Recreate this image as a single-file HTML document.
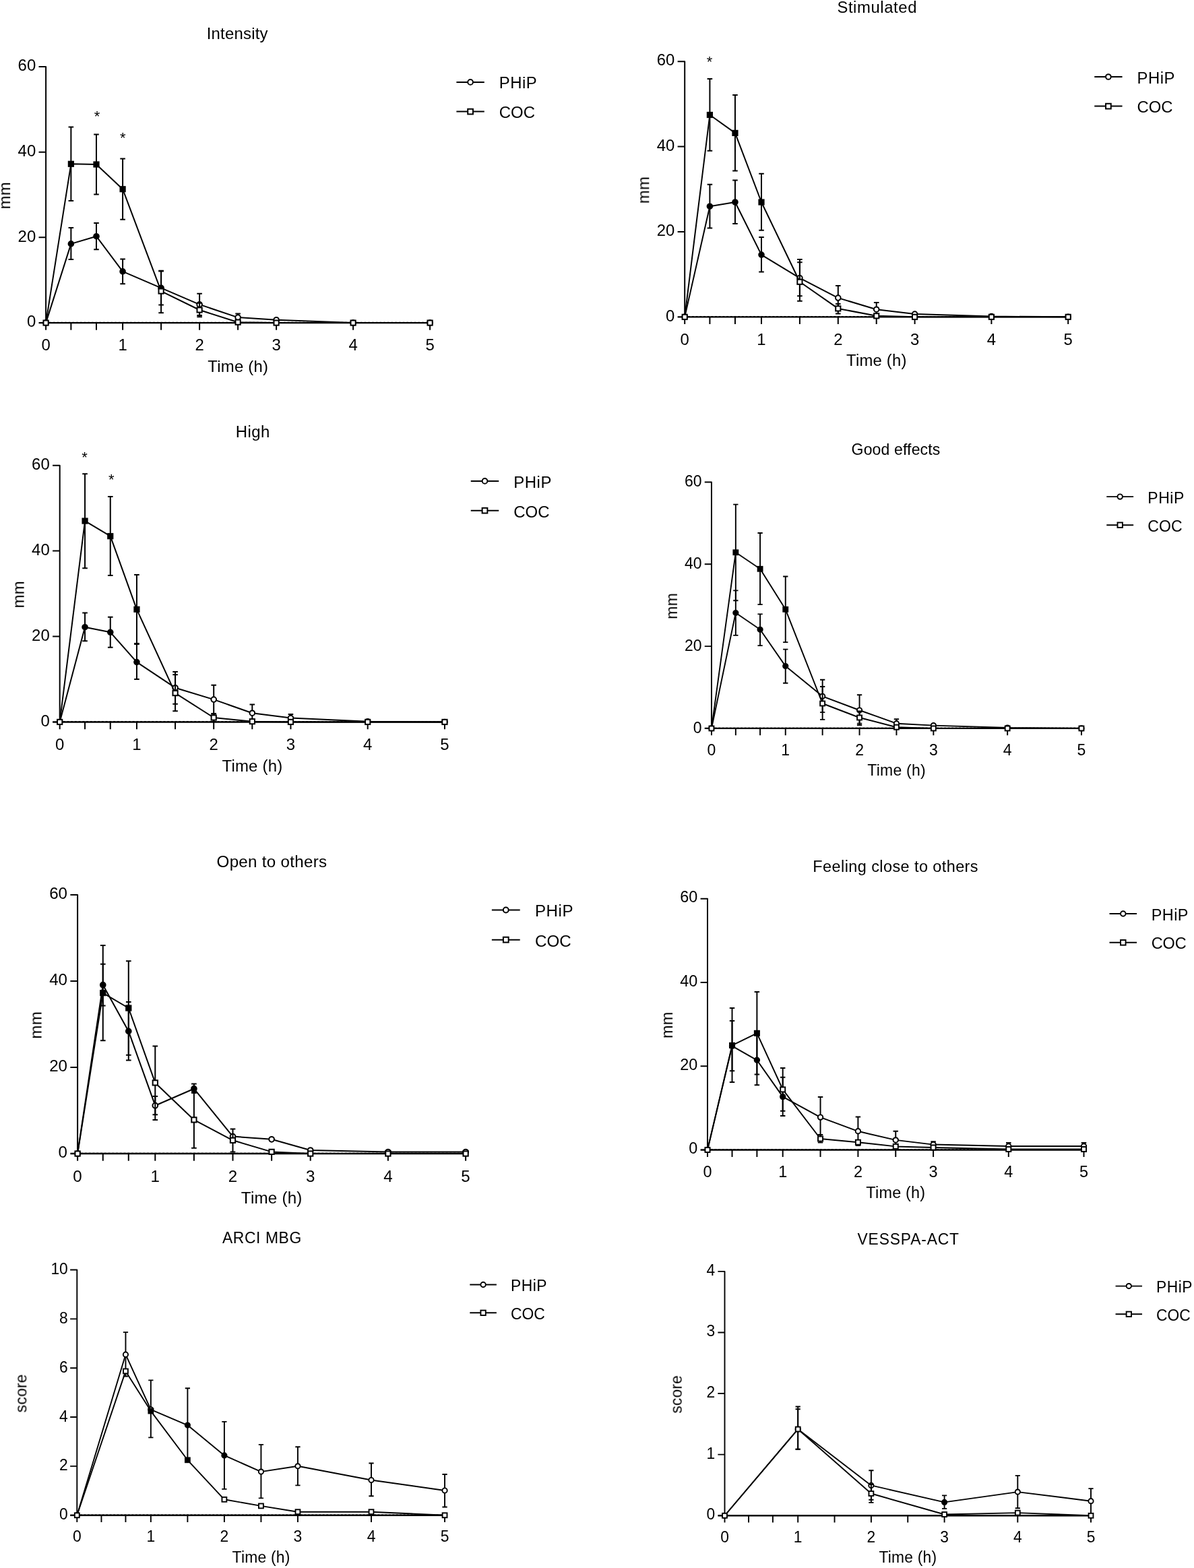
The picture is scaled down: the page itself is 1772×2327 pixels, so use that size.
<!DOCTYPE html>
<html lang="en">
<head>
<meta charset="utf-8">
<title>Subjective effects over time: PHiP vs COC</title>
<style>
html,body{margin:0;padding:0;background:#fff}
body{width:1772px;height:2327px;overflow:hidden}
svg{display:block;font-family:"Liberation Sans", sans-serif;fill:#000}
.chart{filter:blur(0.4px)}
.l{fill:none;stroke:#000}
</style>
</head>
<body>
<svg width="1772" height="2327" viewBox="0 0 1772 2327">
<rect width="1772" height="2327" fill="#fff"/>
<g class="chart">
<text transform="translate(352.21 57.75) scale(0.985 1)" font-size="24.3" text-anchor="middle" letter-spacing="0.22">Intensity</text>
<path class="l" stroke-width="2.4" d="M57.5 479.1H639.1"/>
<path class="l" stroke-width="1" stroke-dasharray="3 2.7" d="M73.1 478.3H638.1"/>
<text transform="translate(53.2 485.3) scale(0.985 1)" font-size="24.3" text-anchor="end">0</text>
<text transform="translate(53.2 358.57) scale(0.985 1)" font-size="24.3" text-anchor="end">20</text>
<text transform="translate(53.2 231.83) scale(0.985 1)" font-size="24.3" text-anchor="end">40</text>
<text transform="translate(53.2 105.1) scale(0.985 1)" font-size="24.3" text-anchor="end">60</text>
<text transform="translate(68.1 520.4) scale(0.985 1)" font-size="24.3" text-anchor="middle">0</text>
<text transform="translate(182.1 520.4) scale(0.985 1)" font-size="24.3" text-anchor="middle">1</text>
<text transform="translate(296.1 520.4) scale(0.985 1)" font-size="24.3" text-anchor="middle">2</text>
<text transform="translate(410.1 520.4) scale(0.985 1)" font-size="24.3" text-anchor="middle">3</text>
<text transform="translate(524.1 520.4) scale(0.985 1)" font-size="24.3" text-anchor="middle">4</text>
<text transform="translate(638.1 520.4) scale(0.985 1)" font-size="24.3" text-anchor="middle">5</text>
<path class="l" stroke-linejoin="round" stroke-width="2" d="M57.5 98.9H68.1V479.1M57.5 352.37H68.1M57.5 225.63H68.1M68.1 479.1V489.8M105.38 479.1V489.8M143 479.1V489.8M182.1 479.1V489.8M239.1 479.1V489.8M296.1 479.1V489.8M353.1 479.1V489.8M410.1 479.1V489.8M524.1 479.1V489.8M638.1 479.1V489.8"/>
<text transform="translate(353.21 552.2) scale(0.985 1)" font-size="24.3" text-anchor="middle" letter-spacing="0.21">Time (h)</text>
<text transform="translate(15.1 290.2) rotate(-90) scale(0.985 1)" font-size="24.3" text-anchor="middle" letter-spacing="0.21">mm</text>
<path class="l" stroke-width="2" d="M677.4 121.9H718.8"/>
<circle cx="698.1" cy="121.9" r="3.85" fill="#fff" stroke="#000" stroke-width="2"/>
<text transform="translate(740.8 131.3) scale(0.985 1)" font-size="24.3" letter-spacing="0.5">PHiP</text>
<path class="l" stroke-width="2" d="M677.4 165.6H718.8"/>
<rect x="694.25" y="161.75" width="7.7" height="7.7" fill="#fff" stroke="#000" stroke-width="2"/>
<text transform="translate(740.8 175) scale(0.985 1)" font-size="24.3">COC</text>
<text transform="translate(144 180.1)" font-size="22" text-anchor="middle">*</text>
<text transform="translate(182.4 212.2)" font-size="22" text-anchor="middle">*</text>
<path class="l" stroke-width="2" d="M105.38 361.9V338.1M101.58 338.1H109.18M105.38 361.9V385M101.58 385H109.18M143 350.7V331M139.2 331H146.8M143 350.7V370.2M139.2 370.2H146.8M182.1 402.9V384.5M178.3 384.5H185.9M182.1 402.9V421.2M178.3 421.2H185.9M239.1 427.4V401.7M235.3 401.7H242.9M239.1 427.4V452.4M235.3 452.4H242.9M296.1 451.9V435.7M292.3 435.7H299.9M296.1 451.9V468.1M292.3 468.1H299.9M353.1 471.1V465.4M349.3 465.4H356.9M353.1 471.1V477M349.3 477H356.9"/>
<path class="l" stroke-width="2" stroke-linejoin="round" d="M68.1 479.1L105.38 361.9L143 350.7L182.1 402.9L239.1 427.4L296.1 451.9L353.1 471.1L410.1 474.7L524.1 479.1L638.1 479.1"/>
<circle cx="68.1" cy="479.1" r="3.8" fill="#fff" stroke="#000" stroke-width="2"/>
<circle cx="105.38" cy="361.9" r="3.8" fill="#000" stroke="#000" stroke-width="2"/>
<circle cx="143" cy="350.7" r="3.8" fill="#000" stroke="#000" stroke-width="2"/>
<circle cx="182.1" cy="402.9" r="3.8" fill="#000" stroke="#000" stroke-width="2"/>
<circle cx="239.1" cy="427.4" r="3.8" fill="#000" stroke="#000" stroke-width="2"/>
<circle cx="296.1" cy="451.9" r="3.8" fill="#fff" stroke="#000" stroke-width="2"/>
<circle cx="353.1" cy="471.1" r="3.8" fill="#fff" stroke="#000" stroke-width="2"/>
<circle cx="410.1" cy="474.7" r="3.8" fill="#fff" stroke="#000" stroke-width="2"/>
<circle cx="524.1" cy="479.1" r="3.8" fill="#fff" stroke="#000" stroke-width="2"/>
<circle cx="638.1" cy="479.1" r="3.8" fill="#fff" stroke="#000" stroke-width="2"/>
<path class="l" stroke-width="2" d="M105.38 243.3V188.6M101.58 188.6H109.18M105.38 243.3V298.1M101.58 298.1H109.18M143 244V199.5M139.2 199.5H146.8M143 244V288.6M139.2 288.6H146.8M182.1 280.7V235.5M178.3 235.5H185.9M182.1 280.7V325.7M178.3 325.7H185.9M239.1 432.1V402.4M235.3 402.4H242.9M239.1 432.1V464.3M235.3 464.3H242.9M296.1 460V449.7M292.3 449.7H299.9M296.1 460V470.3M292.3 470.3H299.9"/>
<path class="l" stroke-width="2" stroke-linejoin="round" d="M68.1 479.1L105.38 243.3L143 244L182.1 280.7L239.1 432.1L296.1 460L353.1 478.2L410.1 479.1L524.1 479.1L638.1 479.1"/>
<rect x="64.5" y="475.5" width="7.2" height="7.2" fill="#fff" stroke="#000" stroke-width="2"/>
<rect x="101.78" y="239.7" width="7.2" height="7.2" fill="#000" stroke="#000" stroke-width="2"/>
<rect x="139.4" y="240.4" width="7.2" height="7.2" fill="#000" stroke="#000" stroke-width="2"/>
<rect x="178.5" y="277.1" width="7.2" height="7.2" fill="#000" stroke="#000" stroke-width="2"/>
<rect x="235.5" y="428.5" width="7.2" height="7.2" fill="#fff" stroke="#000" stroke-width="2"/>
<rect x="292.5" y="456.4" width="7.2" height="7.2" fill="#fff" stroke="#000" stroke-width="2"/>
<rect x="349.5" y="474.6" width="7.2" height="7.2" fill="#fff" stroke="#000" stroke-width="2"/>
<rect x="406.5" y="475.5" width="7.2" height="7.2" fill="#fff" stroke="#000" stroke-width="2"/>
<rect x="520.5" y="475.5" width="7.2" height="7.2" fill="#fff" stroke="#000" stroke-width="2"/>
<rect x="634.5" y="475.5" width="7.2" height="7.2" fill="#fff" stroke="#000" stroke-width="2"/>
</g>
<g class="chart">
<text transform="translate(1301.69 19.45) scale(0.985 1)" font-size="24.26" text-anchor="middle" letter-spacing="0.59">Stimulated</text>
<path class="l" stroke-width="2.4" d="M1005.62 470.35H1586.2"/>
<path class="l" stroke-width="1" stroke-dasharray="2.99 2.7" d="M1021.19 469.55H1585.2"/>
<text transform="translate(1001.33 476.54) scale(0.985 1)" font-size="24.26" text-anchor="end">0</text>
<text transform="translate(1001.33 350.16) scale(0.985 1)" font-size="24.26" text-anchor="end">20</text>
<text transform="translate(1001.33 223.77) scale(0.985 1)" font-size="24.26" text-anchor="end">40</text>
<text transform="translate(1001.33 97.39) scale(0.985 1)" font-size="24.26" text-anchor="end">60</text>
<text transform="translate(1016.2 511.58) scale(0.985 1)" font-size="24.26" text-anchor="middle">0</text>
<text transform="translate(1130 511.58) scale(0.985 1)" font-size="24.26" text-anchor="middle">1</text>
<text transform="translate(1243.8 511.58) scale(0.985 1)" font-size="24.26" text-anchor="middle">2</text>
<text transform="translate(1357.6 511.58) scale(0.985 1)" font-size="24.26" text-anchor="middle">3</text>
<text transform="translate(1471.4 511.58) scale(0.985 1)" font-size="24.26" text-anchor="middle">4</text>
<text transform="translate(1585.2 511.58) scale(0.985 1)" font-size="24.26" text-anchor="middle">5</text>
<path class="l" stroke-linejoin="round" stroke-width="2" d="M1005.62 91.2H1016.2V470.35M1005.62 343.97H1016.2M1005.62 217.58H1016.2M1016.2 470.35V481.03M1053.41 470.35V481.03M1090.97 470.35V481.03M1130 470.35V481.03M1186.9 470.35V481.03M1243.8 470.35V481.03M1300.7 470.35V481.03M1357.6 470.35V481.03M1471.4 470.35V481.03M1585.2 470.35V481.03"/>
<text transform="translate(1300.8 543.32) scale(0.985 1)" font-size="24.26" text-anchor="middle" letter-spacing="0.21">Time (h)</text>
<text transform="translate(963.29 281.98) rotate(-90) scale(0.985 1)" font-size="24.26" text-anchor="middle" letter-spacing="0.21">mm</text>
<path class="l" stroke-width="2" d="M1624.24 114H1665.56"/>
<circle cx="1644.9" cy="114" r="3.84" fill="#fff" stroke="#000" stroke-width="2"/>
<text transform="translate(1687.53 123.78) scale(0.985 1)" font-size="24.26" letter-spacing="0.5">PHiP</text>
<path class="l" stroke-width="2" d="M1624.24 157.62H1665.56"/>
<rect x="1641.06" y="153.78" width="7.69" height="7.69" fill="#fff" stroke="#000" stroke-width="2"/>
<text transform="translate(1687.53 167.41) scale(0.985 1)" font-size="24.26">COC</text>
<text transform="translate(1053.1 98.68)" font-size="21.96" text-anchor="middle">*</text>
<path class="l" stroke-width="2" d="M1053.41 306.2V273.8M1049.62 273.8H1057.21M1053.41 306.2V338.6M1049.62 338.6H1057.21M1090.97 300V267.6M1087.17 267.6H1094.76M1090.97 300V332.1M1087.17 332.1H1094.76M1130 378.1V351.9M1126.21 351.9H1133.79M1130 378.1V403.6M1126.21 403.6H1133.79M1186.9 412.6V385M1183.11 385H1190.69M1186.9 412.6V439.3M1183.11 439.3H1190.69M1243.8 442.1V424M1240.01 424H1247.59M1243.8 442.1V460M1240.01 460H1247.59M1300.7 459.2V449M1296.91 449H1304.49M1300.7 459.2V469M1296.91 469H1304.49"/>
<path class="l" stroke-width="2" stroke-linejoin="round" d="M1016.2 470.35L1053.41 306.2L1090.97 300L1130 378.1L1186.9 412.6L1243.8 442.1L1300.7 459.2L1357.6 466.1L1471.4 469.6L1585.2 470.35"/>
<circle cx="1016.2" cy="470.35" r="3.79" fill="#fff" stroke="#000" stroke-width="2"/>
<circle cx="1053.41" cy="306.2" r="3.79" fill="#000" stroke="#000" stroke-width="2"/>
<circle cx="1090.97" cy="300" r="3.79" fill="#000" stroke="#000" stroke-width="2"/>
<circle cx="1130" cy="378.1" r="3.79" fill="#000" stroke="#000" stroke-width="2"/>
<circle cx="1186.9" cy="412.6" r="3.79" fill="#fff" stroke="#000" stroke-width="2"/>
<circle cx="1243.8" cy="442.1" r="3.79" fill="#fff" stroke="#000" stroke-width="2"/>
<circle cx="1300.7" cy="459.2" r="3.79" fill="#fff" stroke="#000" stroke-width="2"/>
<circle cx="1357.6" cy="466.1" r="3.79" fill="#fff" stroke="#000" stroke-width="2"/>
<circle cx="1471.4" cy="469.6" r="3.79" fill="#fff" stroke="#000" stroke-width="2"/>
<circle cx="1585.2" cy="470.35" r="3.79" fill="#fff" stroke="#000" stroke-width="2"/>
<path class="l" stroke-width="2" d="M1053.41 170.5V116.9M1049.62 116.9H1057.21M1053.41 170.5V223.8M1049.62 223.8H1057.21M1090.97 197.4V141M1087.17 141H1094.76M1090.97 197.4V253.6M1087.17 253.6H1094.76M1130 300V257.7M1126.21 257.7H1133.79M1130 300V341.7M1126.21 341.7H1133.79M1186.9 418.3V389.3M1183.11 389.3H1190.69M1186.9 418.3V446.7M1183.11 446.7H1190.69M1243.8 457.9V451M1240.01 451H1247.59M1243.8 457.9V465.5M1240.01 465.5H1247.59"/>
<path class="l" stroke-width="2" stroke-linejoin="round" d="M1016.2 470.35L1053.41 170.5L1090.97 197.4L1130 300L1186.9 418.3L1243.8 457.9L1300.7 468.8L1357.6 470.35L1471.4 470.35L1585.2 470.35"/>
<rect x="1012.61" y="466.76" width="7.19" height="7.19" fill="#fff" stroke="#000" stroke-width="2"/>
<rect x="1049.82" y="166.91" width="7.19" height="7.19" fill="#000" stroke="#000" stroke-width="2"/>
<rect x="1087.37" y="193.81" width="7.19" height="7.19" fill="#000" stroke="#000" stroke-width="2"/>
<rect x="1126.41" y="296.41" width="7.19" height="7.19" fill="#000" stroke="#000" stroke-width="2"/>
<rect x="1183.31" y="414.71" width="7.19" height="7.19" fill="#fff" stroke="#000" stroke-width="2"/>
<rect x="1240.21" y="454.31" width="7.19" height="7.19" fill="#fff" stroke="#000" stroke-width="2"/>
<rect x="1297.11" y="465.21" width="7.19" height="7.19" fill="#fff" stroke="#000" stroke-width="2"/>
<rect x="1354.01" y="466.76" width="7.19" height="7.19" fill="#fff" stroke="#000" stroke-width="2"/>
<rect x="1467.81" y="466.76" width="7.19" height="7.19" fill="#fff" stroke="#000" stroke-width="2"/>
<rect x="1581.61" y="466.76" width="7.19" height="7.19" fill="#fff" stroke="#000" stroke-width="2"/>
</g>
<g class="chart">
<text transform="translate(375.22 649.15) scale(0.985 1)" font-size="24.35" text-anchor="middle" letter-spacing="0.39">High</text>
<path class="l" stroke-width="2.41" d="M78.08 1071.45H660.95"/>
<path class="l" stroke-width="1" stroke-dasharray="3.01 2.71" d="M93.71 1070.65H659.95"/>
<text transform="translate(73.77 1077.96) scale(0.985 1)" font-size="24.35" text-anchor="end">0</text>
<text transform="translate(73.77 951.05) scale(0.985 1)" font-size="24.35" text-anchor="end">20</text>
<text transform="translate(73.77 824.13) scale(0.985 1)" font-size="24.35" text-anchor="end">40</text>
<text transform="translate(73.77 697.21) scale(0.985 1)" font-size="24.35" text-anchor="end">60</text>
<text transform="translate(88.7 1112.84) scale(0.985 1)" font-size="24.35" text-anchor="middle">0</text>
<text transform="translate(202.95 1112.84) scale(0.985 1)" font-size="24.35" text-anchor="middle">1</text>
<text transform="translate(317.2 1112.84) scale(0.985 1)" font-size="24.35" text-anchor="middle">2</text>
<text transform="translate(431.45 1112.84) scale(0.985 1)" font-size="24.35" text-anchor="middle">3</text>
<text transform="translate(545.7 1112.84) scale(0.985 1)" font-size="24.35" text-anchor="middle">4</text>
<text transform="translate(659.95 1112.84) scale(0.985 1)" font-size="24.35" text-anchor="middle">5</text>
<path class="l" stroke-linejoin="round" stroke-width="2" d="M78.08 690.7H88.7V1071.45M78.08 944.53H88.7M78.08 817.62H88.7M88.7 1071.45V1082.17M126.06 1071.45V1082.17M163.76 1071.45V1082.17M202.95 1071.45V1082.17M260.07 1071.45V1082.17M317.2 1071.45V1082.17M374.32 1071.45V1082.17M431.45 1071.45V1082.17M545.7 1071.45V1082.17M659.95 1071.45V1082.17"/>
<text transform="translate(374.43 1144.71) scale(0.985 1)" font-size="24.35" text-anchor="middle" letter-spacing="0.21">Time (h)</text>
<text transform="translate(35.58 882.28) rotate(-90) scale(0.985 1)" font-size="24.35" text-anchor="middle" letter-spacing="0.21">mm</text>
<path class="l" stroke-width="2" d="M698.75 713.9H740.25"/>
<circle cx="719.5" cy="713.9" r="3.86" fill="#fff" stroke="#000" stroke-width="2"/>
<text transform="translate(762.29 723.72) scale(0.985 1)" font-size="24.35" letter-spacing="0.5">PHiP</text>
<path class="l" stroke-width="2" d="M698.75 757.7H740.25"/>
<rect x="715.64" y="753.84" width="7.72" height="7.72" fill="#fff" stroke="#000" stroke-width="2"/>
<text transform="translate(762.29 767.52) scale(0.985 1)" font-size="24.35">COC</text>
<text transform="translate(125.5 685.82)" font-size="22.05" text-anchor="middle">*</text>
<text transform="translate(165.2 719.12)" font-size="22.05" text-anchor="middle">*</text>
<path class="l" stroke-width="2" d="M126.06 930.7V909.5M122.25 909.5H129.87M126.06 930.7V951.2M122.25 951.2H129.87M163.76 938.3V915.7M159.95 915.7H167.57M163.76 938.3V960.7M159.95 960.7H167.57M202.95 982.6V955M199.14 955H206.76M202.95 982.6V1008.1M199.14 1008.1H206.76M260.07 1020.7V997.1M256.27 997.1H263.88M260.07 1020.7V1044.8M256.27 1044.8H263.88M317.2 1038.1V1016.7M313.39 1016.7H321.01M317.2 1038.1V1059.5M313.39 1059.5H321.01M374.32 1058.2V1045.6M370.52 1045.6H378.13M374.32 1058.2V1070M370.52 1070H378.13M431.45 1065.6V1060M427.64 1060H435.26"/>
<path class="l" stroke-width="2" stroke-linejoin="round" d="M88.7 1071.45L126.06 930.7L163.76 938.3L202.95 982.6L260.07 1020.7L317.2 1038.1L374.32 1058.2L431.45 1065.6L545.7 1070.7L659.95 1071.45"/>
<circle cx="88.7" cy="1071.45" r="3.81" fill="#fff" stroke="#000" stroke-width="2"/>
<circle cx="126.06" cy="930.7" r="3.81" fill="#000" stroke="#000" stroke-width="2"/>
<circle cx="163.76" cy="938.3" r="3.81" fill="#000" stroke="#000" stroke-width="2"/>
<circle cx="202.95" cy="982.6" r="3.81" fill="#000" stroke="#000" stroke-width="2"/>
<circle cx="260.07" cy="1020.7" r="3.81" fill="#fff" stroke="#000" stroke-width="2"/>
<circle cx="317.2" cy="1038.1" r="3.81" fill="#fff" stroke="#000" stroke-width="2"/>
<circle cx="374.32" cy="1058.2" r="3.81" fill="#fff" stroke="#000" stroke-width="2"/>
<circle cx="431.45" cy="1065.6" r="3.81" fill="#fff" stroke="#000" stroke-width="2"/>
<circle cx="545.7" cy="1070.7" r="3.81" fill="#fff" stroke="#000" stroke-width="2"/>
<circle cx="659.95" cy="1071.45" r="3.81" fill="#fff" stroke="#000" stroke-width="2"/>
<path class="l" stroke-width="2" d="M126.06 773.1V703.3M122.25 703.3H129.87M126.06 773.1V843.3M122.25 843.3H129.87M163.76 795.7V737.1M159.95 737.1H167.57M163.76 795.7V854M159.95 854H167.57M202.95 904.3V852.9M199.14 852.9H206.76M202.95 904.3V956M199.14 956H206.76M260.07 1028.6V1001.2M256.27 1001.2H263.88M260.07 1028.6V1055.2M256.27 1055.2H263.88M317.2 1065V1059M313.39 1059H321.01M317.2 1065V1071M313.39 1071H321.01"/>
<path class="l" stroke-width="2" stroke-linejoin="round" d="M88.7 1071.45L126.06 773.1L163.76 795.7L202.95 904.3L260.07 1028.6L317.2 1065L374.32 1070.7L431.45 1071.45L545.7 1071.45L659.95 1071.45"/>
<rect x="85.09" y="1067.84" width="7.22" height="7.22" fill="#fff" stroke="#000" stroke-width="2"/>
<rect x="122.45" y="769.49" width="7.22" height="7.22" fill="#000" stroke="#000" stroke-width="2"/>
<rect x="160.15" y="792.09" width="7.22" height="7.22" fill="#000" stroke="#000" stroke-width="2"/>
<rect x="199.34" y="900.69" width="7.22" height="7.22" fill="#000" stroke="#000" stroke-width="2"/>
<rect x="256.47" y="1024.99" width="7.22" height="7.22" fill="#fff" stroke="#000" stroke-width="2"/>
<rect x="313.59" y="1061.39" width="7.22" height="7.22" fill="#fff" stroke="#000" stroke-width="2"/>
<rect x="370.72" y="1067.09" width="7.22" height="7.22" fill="#fff" stroke="#000" stroke-width="2"/>
<rect x="427.84" y="1067.84" width="7.22" height="7.22" fill="#fff" stroke="#000" stroke-width="2"/>
<rect x="542.09" y="1067.84" width="7.22" height="7.22" fill="#fff" stroke="#000" stroke-width="2"/>
<rect x="656.34" y="1067.84" width="7.22" height="7.22" fill="#fff" stroke="#000" stroke-width="2"/>
</g>
<g class="chart">
<text transform="translate(1329.52 675.35) scale(0.985 1)" font-size="23.4" text-anchor="middle" letter-spacing="0.14">Good effects</text>
<path class="l" stroke-width="2.31" d="M1045.74 1080.95H1605.91"/>
<path class="l" stroke-width="0.96" stroke-dasharray="2.89 2.6" d="M1060.77 1080.18H1604.95"/>
<text transform="translate(1041.6 1087.62) scale(0.985 1)" font-size="23.4" text-anchor="end">0</text>
<text transform="translate(1041.6 965.8) scale(0.985 1)" font-size="23.4" text-anchor="end">20</text>
<text transform="translate(1041.6 843.99) scale(0.985 1)" font-size="23.4" text-anchor="end">40</text>
<text transform="translate(1041.6 722.17) scale(0.985 1)" font-size="23.4" text-anchor="end">60</text>
<text transform="translate(1055.95 1120.73) scale(0.985 1)" font-size="23.4" text-anchor="middle">0</text>
<text transform="translate(1165.75 1120.73) scale(0.985 1)" font-size="23.4" text-anchor="middle">1</text>
<text transform="translate(1275.55 1120.73) scale(0.985 1)" font-size="23.4" text-anchor="middle">2</text>
<text transform="translate(1385.35 1120.73) scale(0.985 1)" font-size="23.4" text-anchor="middle">3</text>
<text transform="translate(1495.15 1120.73) scale(0.985 1)" font-size="23.4" text-anchor="middle">4</text>
<text transform="translate(1604.95 1120.73) scale(0.985 1)" font-size="23.4" text-anchor="middle">5</text>
<path class="l" stroke-linejoin="round" stroke-width="1.93" d="M1045.74 715.5H1055.95V1080.95M1045.74 959.13H1055.95M1045.74 837.32H1055.95M1055.95 1080.95V1091.26M1091.85 1080.95V1091.26M1128.09 1080.95V1091.26M1165.75 1080.95V1091.26M1220.65 1080.95V1091.26M1275.55 1080.95V1091.26M1330.45 1080.95V1091.26M1385.35 1080.95V1091.26M1495.15 1080.95V1091.26M1604.95 1080.95V1091.26"/>
<text transform="translate(1330.55 1151.36) scale(0.985 1)" font-size="23.4" text-anchor="middle" letter-spacing="0.2">Time (h)</text>
<text transform="translate(1004.9 899.43) rotate(-90) scale(0.985 1)" font-size="23.4" text-anchor="middle" letter-spacing="0.2">mm</text>
<path class="l" stroke-width="1.93" d="M1642.26 737.1H1682.14"/>
<circle cx="1662.2" cy="737.1" r="3.71" fill="#fff" stroke="#000" stroke-width="1.93"/>
<text transform="translate(1703.33 746.54) scale(0.985 1)" font-size="23.4" letter-spacing="0.48">PHiP</text>
<path class="l" stroke-width="1.93" d="M1642.26 779.19H1682.14"/>
<rect x="1658.49" y="775.48" width="7.42" height="7.42" fill="#fff" stroke="#000" stroke-width="1.93"/>
<text transform="translate(1703.33 788.63) scale(0.985 1)" font-size="23.4">COC</text>
<path class="l" stroke-width="1.93" d="M1091.85 909.5V876.4M1088.19 876.4H1095.51M1091.85 909.5V942.9M1088.19 942.9H1095.51M1128.09 934.3V911.4M1124.43 911.4H1131.75M1128.09 934.3V958.1M1124.43 958.1H1131.75M1165.75 988.6V963.6M1162.09 963.6H1169.41M1165.75 988.6V1013.8M1162.09 1013.8H1169.41M1220.65 1033.3V1008.8M1216.99 1008.8H1224.31M1220.65 1033.3V1057.1M1216.99 1057.1H1224.31M1275.55 1054V1031.2M1271.89 1031.2H1279.21M1275.55 1054V1073.6M1271.89 1073.6H1279.21M1330.45 1073.7V1067.2M1326.79 1067.2H1334.11M1330.45 1073.7V1080M1326.79 1080H1334.11"/>
<path class="l" stroke-width="1.93" stroke-linejoin="round" d="M1055.95 1080.95L1091.85 909.5L1128.09 934.3L1165.75 988.6L1220.65 1033.3L1275.55 1054L1330.45 1073.7L1385.35 1076.6L1495.15 1080L1604.95 1080.95"/>
<circle cx="1055.95" cy="1080.95" r="3.66" fill="#fff" stroke="#000" stroke-width="1.93"/>
<circle cx="1091.85" cy="909.5" r="3.66" fill="#000" stroke="#000" stroke-width="1.93"/>
<circle cx="1128.09" cy="934.3" r="3.66" fill="#000" stroke="#000" stroke-width="1.93"/>
<circle cx="1165.75" cy="988.6" r="3.66" fill="#000" stroke="#000" stroke-width="1.93"/>
<circle cx="1220.65" cy="1033.3" r="3.66" fill="#fff" stroke="#000" stroke-width="1.93"/>
<circle cx="1275.55" cy="1054" r="3.66" fill="#fff" stroke="#000" stroke-width="1.93"/>
<circle cx="1330.45" cy="1073.7" r="3.66" fill="#fff" stroke="#000" stroke-width="1.93"/>
<circle cx="1385.35" cy="1076.6" r="3.66" fill="#fff" stroke="#000" stroke-width="1.93"/>
<circle cx="1495.15" cy="1080" r="3.66" fill="#fff" stroke="#000" stroke-width="1.93"/>
<circle cx="1604.95" cy="1080.95" r="3.66" fill="#fff" stroke="#000" stroke-width="1.93"/>
<path class="l" stroke-width="1.93" d="M1091.85 819.8V748.6M1088.19 748.6H1095.51M1091.85 819.8V891.2M1088.19 891.2H1095.51M1128.09 844.3V791M1124.43 791H1131.75M1128.09 844.3V897.1M1124.43 897.1H1131.75M1165.75 904.3V855.5M1162.09 855.5H1169.41M1165.75 904.3V953.1M1162.09 953.1H1169.41M1220.65 1044V1019M1216.99 1019H1224.31M1220.65 1044V1067.9M1216.99 1067.9H1224.31M1275.55 1065V1055.5M1271.89 1055.5H1279.21M1275.55 1065V1076M1271.89 1076H1279.21"/>
<path class="l" stroke-width="1.93" stroke-linejoin="round" d="M1055.95 1080.95L1091.85 819.8L1128.09 844.3L1165.75 904.3L1220.65 1044L1275.55 1065L1330.45 1079.2L1385.35 1080.95L1495.15 1080.95L1604.95 1080.95"/>
<rect x="1052.49" y="1077.49" width="6.92" height="6.92" fill="#fff" stroke="#000" stroke-width="1.93"/>
<rect x="1088.39" y="816.34" width="6.92" height="6.92" fill="#000" stroke="#000" stroke-width="1.93"/>
<rect x="1124.63" y="840.84" width="6.92" height="6.92" fill="#000" stroke="#000" stroke-width="1.93"/>
<rect x="1162.29" y="900.84" width="6.92" height="6.92" fill="#000" stroke="#000" stroke-width="1.93"/>
<rect x="1217.19" y="1040.54" width="6.92" height="6.92" fill="#fff" stroke="#000" stroke-width="1.93"/>
<rect x="1272.09" y="1061.54" width="6.92" height="6.92" fill="#fff" stroke="#000" stroke-width="1.93"/>
<rect x="1326.99" y="1075.74" width="6.92" height="6.92" fill="#fff" stroke="#000" stroke-width="1.93"/>
<rect x="1381.89" y="1077.49" width="6.92" height="6.92" fill="#fff" stroke="#000" stroke-width="1.93"/>
<rect x="1491.69" y="1077.49" width="6.92" height="6.92" fill="#fff" stroke="#000" stroke-width="1.93"/>
<rect x="1601.49" y="1077.49" width="6.92" height="6.92" fill="#fff" stroke="#000" stroke-width="1.93"/>
</g>
<g class="chart">
<text transform="translate(403.44 1286.75) scale(0.985 1)" font-size="24.56" text-anchor="middle" letter-spacing="0.28">Open to others</text>
<path class="l" stroke-width="2.43" d="M104.39 1712.05H692.11"/>
<path class="l" stroke-width="1.01" stroke-dasharray="3.03 2.73" d="M120.15 1711.24H691.1"/>
<text transform="translate(100.04 1718.12) scale(0.985 1)" font-size="24.56" text-anchor="end">0</text>
<text transform="translate(100.04 1590.13) scale(0.985 1)" font-size="24.56" text-anchor="end">20</text>
<text transform="translate(100.04 1462.15) scale(0.985 1)" font-size="24.56" text-anchor="end">40</text>
<text transform="translate(100.04 1334.17) scale(0.985 1)" font-size="24.56" text-anchor="end">60</text>
<text transform="translate(115.1 1753.78) scale(0.985 1)" font-size="24.56" text-anchor="middle">0</text>
<text transform="translate(230.3 1753.78) scale(0.985 1)" font-size="24.56" text-anchor="middle">1</text>
<text transform="translate(345.5 1753.78) scale(0.985 1)" font-size="24.56" text-anchor="middle">2</text>
<text transform="translate(460.7 1753.78) scale(0.985 1)" font-size="24.56" text-anchor="middle">3</text>
<text transform="translate(575.9 1753.78) scale(0.985 1)" font-size="24.56" text-anchor="middle">4</text>
<text transform="translate(691.1 1753.78) scale(0.985 1)" font-size="24.56" text-anchor="middle">5</text>
<path class="l" stroke-linejoin="round" stroke-width="2.02" d="M104.39 1328.1H115.1V1712.05M104.39 1584.07H115.1M104.39 1456.08H115.1M115.1 1712.05V1722.86M152.77 1712.05V1722.86M190.79 1712.05V1722.86M230.3 1712.05V1722.86M287.9 1712.05V1722.86M345.5 1712.05V1722.86M403.1 1712.05V1722.86M460.7 1712.05V1722.86M575.9 1712.05V1722.86M691.1 1712.05V1722.86"/>
<text transform="translate(403.21 1785.92) scale(0.985 1)" font-size="24.56" text-anchor="middle" letter-spacing="0.21">Time (h)</text>
<text transform="translate(61.54 1521.27) rotate(-90) scale(0.985 1)" font-size="24.56" text-anchor="middle" letter-spacing="0.21">mm</text>
<path class="l" stroke-width="2.02" d="M729.88 1350.5H771.72"/>
<circle cx="750.8" cy="1350.5" r="3.89" fill="#fff" stroke="#000" stroke-width="2.02"/>
<text transform="translate(793.95 1360.4) scale(0.985 1)" font-size="24.56" letter-spacing="0.51">PHiP</text>
<path class="l" stroke-width="2.02" d="M729.88 1394.66H771.72"/>
<rect x="746.91" y="1390.77" width="7.78" height="7.78" fill="#fff" stroke="#000" stroke-width="2.02"/>
<text transform="translate(793.95 1404.56) scale(0.985 1)" font-size="24.56">COC</text>
<path class="l" stroke-width="2.02" d="M152.77 1461.7V1430.7M148.93 1430.7H156.61M152.77 1461.7V1492.4M148.93 1492.4H156.61M190.79 1530.4V1486.9M186.95 1486.9H194.63M190.79 1530.4V1573.6M186.95 1573.6H194.63M230.3 1640.7V1627.1M226.46 1627.1H234.14M230.3 1640.7V1654.3M226.46 1654.3H234.14M287.9 1615.7V1608.6M284.06 1608.6H291.74M287.9 1615.7V1622M284.06 1622H291.74"/>
<path class="l" stroke-width="2.02" stroke-linejoin="round" d="M115.1 1712.05L152.77 1461.7L190.79 1530.4L230.3 1640.7L287.9 1615.7L345.5 1686.6L403.1 1690.8L460.7 1707L575.9 1709.5L691.1 1709.5"/>
<circle cx="115.1" cy="1712.05" r="3.84" fill="#fff" stroke="#000" stroke-width="2.02"/>
<circle cx="152.77" cy="1461.7" r="3.84" fill="#000" stroke="#000" stroke-width="2.02"/>
<circle cx="190.79" cy="1530.4" r="3.84" fill="#000" stroke="#000" stroke-width="2.02"/>
<circle cx="230.3" cy="1640.7" r="3.84" fill="#fff" stroke="#000" stroke-width="2.02"/>
<circle cx="287.9" cy="1615.7" r="3.84" fill="#000" stroke="#000" stroke-width="2.02"/>
<circle cx="345.5" cy="1686.6" r="3.84" fill="#fff" stroke="#000" stroke-width="2.02"/>
<circle cx="403.1" cy="1690.8" r="3.84" fill="#fff" stroke="#000" stroke-width="2.02"/>
<circle cx="460.7" cy="1707" r="3.84" fill="#fff" stroke="#000" stroke-width="2.02"/>
<circle cx="575.9" cy="1709.5" r="3.84" fill="#fff" stroke="#000" stroke-width="2.02"/>
<circle cx="691.1" cy="1709.5" r="3.84" fill="#fff" stroke="#000" stroke-width="2.02"/>
<path class="l" stroke-width="2.02" d="M152.77 1473.6V1402.9M148.93 1402.9H156.61M152.77 1473.6V1544.3M148.93 1544.3H156.61M190.79 1496V1426.2M186.95 1426.2H194.63M190.79 1496V1565.7M186.95 1565.7H194.63M230.3 1606.9V1552.4M226.46 1552.4H234.14M230.3 1606.9V1661.9M226.46 1661.9H234.14M287.9 1661.9V1620M284.06 1620H291.74M287.9 1661.9V1703.8M284.06 1703.8H291.74M345.5 1692.3V1675.4M341.66 1675.4H349.34M345.5 1692.3V1709.6M341.66 1709.6H349.34"/>
<path class="l" stroke-width="2.02" stroke-linejoin="round" d="M115.1 1712.05L152.77 1473.6L190.79 1496L230.3 1606.9L287.9 1661.9L345.5 1692.3L403.1 1709.4L460.7 1712.05L575.9 1712.05L691.1 1712.05"/>
<rect x="111.46" y="1708.41" width="7.28" height="7.28" fill="#fff" stroke="#000" stroke-width="2.02"/>
<rect x="149.13" y="1469.96" width="7.28" height="7.28" fill="#000" stroke="#000" stroke-width="2.02"/>
<rect x="187.15" y="1492.36" width="7.28" height="7.28" fill="#000" stroke="#000" stroke-width="2.02"/>
<rect x="226.66" y="1603.26" width="7.28" height="7.28" fill="#fff" stroke="#000" stroke-width="2.02"/>
<rect x="284.26" y="1658.26" width="7.28" height="7.28" fill="#fff" stroke="#000" stroke-width="2.02"/>
<rect x="341.86" y="1688.66" width="7.28" height="7.28" fill="#fff" stroke="#000" stroke-width="2.02"/>
<rect x="399.46" y="1705.76" width="7.28" height="7.28" fill="#fff" stroke="#000" stroke-width="2.02"/>
<rect x="457.06" y="1708.41" width="7.28" height="7.28" fill="#fff" stroke="#000" stroke-width="2.02"/>
<rect x="572.26" y="1708.41" width="7.28" height="7.28" fill="#fff" stroke="#000" stroke-width="2.02"/>
<rect x="687.46" y="1708.41" width="7.28" height="7.28" fill="#fff" stroke="#000" stroke-width="2.02"/>
</g>
<g class="chart">
<text transform="translate(1329.17 1293.85) scale(0.985 1)" font-size="23.81" text-anchor="middle" letter-spacing="0.43">Feeling close to others</text>
<path class="l" stroke-width="2.35" d="M1039.61 1706.45H1609.48"/>
<path class="l" stroke-width="0.98" stroke-dasharray="2.94 2.65" d="M1054.9 1705.67H1608.5"/>
<text transform="translate(1035.4 1712.02) scale(0.985 1)" font-size="23.81" text-anchor="end">0</text>
<text transform="translate(1035.4 1587.81) scale(0.985 1)" font-size="23.81" text-anchor="end">20</text>
<text transform="translate(1035.4 1463.59) scale(0.985 1)" font-size="23.81" text-anchor="end">40</text>
<text transform="translate(1035.4 1339.37) scale(0.985 1)" font-size="23.81" text-anchor="end">60</text>
<text transform="translate(1050 1746.92) scale(0.985 1)" font-size="23.81" text-anchor="middle">0</text>
<text transform="translate(1161.7 1746.92) scale(0.985 1)" font-size="23.81" text-anchor="middle">1</text>
<text transform="translate(1273.4 1746.92) scale(0.985 1)" font-size="23.81" text-anchor="middle">2</text>
<text transform="translate(1385.1 1746.92) scale(0.985 1)" font-size="23.81" text-anchor="middle">3</text>
<text transform="translate(1496.8 1746.92) scale(0.985 1)" font-size="23.81" text-anchor="middle">4</text>
<text transform="translate(1608.5 1746.92) scale(0.985 1)" font-size="23.81" text-anchor="middle">5</text>
<path class="l" stroke-linejoin="round" stroke-width="1.96" d="M1039.61 1333.8H1050V1706.45M1039.61 1582.23H1050M1039.61 1458.02H1050M1050 1706.45V1716.93M1086.53 1706.45V1716.93M1123.39 1706.45V1716.93M1161.7 1706.45V1716.93M1217.55 1706.45V1716.93M1273.4 1706.45V1716.93M1329.25 1706.45V1716.93M1385.1 1706.45V1716.93M1496.8 1706.45V1716.93M1608.5 1706.45V1716.93"/>
<text transform="translate(1329.35 1778.08) scale(0.985 1)" font-size="23.81" text-anchor="middle" letter-spacing="0.21">Time (h)</text>
<text transform="translate(998.07 1521.33) rotate(-90) scale(0.985 1)" font-size="23.81" text-anchor="middle" letter-spacing="0.21">mm</text>
<path class="l" stroke-width="1.96" d="M1646.52 1356H1687.08"/>
<circle cx="1666.8" cy="1356" r="3.77" fill="#fff" stroke="#000" stroke-width="1.96"/>
<text transform="translate(1708.64 1365.6) scale(0.985 1)" font-size="23.81" letter-spacing="0.49">PHiP</text>
<path class="l" stroke-width="1.96" d="M1646.52 1398.82H1687.08"/>
<rect x="1663.03" y="1395.05" width="7.54" height="7.54" fill="#fff" stroke="#000" stroke-width="1.96"/>
<text transform="translate(1708.64 1408.42) scale(0.985 1)" font-size="23.81">COC</text>
<path class="l" stroke-width="1.96" d="M1086.53 1552.4V1515M1082.8 1515H1090.25M1086.53 1552.4V1589.3M1082.8 1589.3H1090.25M1123.39 1573.3V1536.4M1119.66 1536.4H1127.11M1123.39 1573.3V1610.2M1119.66 1610.2H1127.11M1161.7 1627.6V1598.8M1157.98 1598.8H1165.42M1161.7 1627.6V1656M1157.98 1656H1165.42M1217.55 1658.1V1628.1M1213.83 1628.1H1221.27M1217.55 1658.1V1688M1213.83 1688H1221.27M1273.4 1678.8V1657.4M1269.68 1657.4H1277.12M1273.4 1678.8V1700M1269.68 1700H1277.12M1329.25 1691.9V1678.7M1325.53 1678.7H1332.97M1329.25 1691.9V1705M1325.53 1705H1332.97M1385.1 1698.6V1694.3M1381.38 1694.3H1388.82M1496.8 1701V1696M1493.08 1696H1500.52M1608.5 1701V1696M1604.78 1696H1612.22"/>
<path class="l" stroke-width="1.96" stroke-linejoin="round" d="M1050 1706.45L1086.53 1552.4L1123.39 1573.3L1161.7 1627.6L1217.55 1658.1L1273.4 1678.8L1329.25 1691.9L1385.1 1698.6L1496.8 1701L1608.5 1701"/>
<circle cx="1050" cy="1706.45" r="3.72" fill="#fff" stroke="#000" stroke-width="1.96"/>
<circle cx="1086.53" cy="1552.4" r="3.72" fill="#000" stroke="#000" stroke-width="1.96"/>
<circle cx="1123.39" cy="1573.3" r="3.72" fill="#000" stroke="#000" stroke-width="1.96"/>
<circle cx="1161.7" cy="1627.6" r="3.72" fill="#000" stroke="#000" stroke-width="1.96"/>
<circle cx="1217.55" cy="1658.1" r="3.72" fill="#fff" stroke="#000" stroke-width="1.96"/>
<circle cx="1273.4" cy="1678.8" r="3.72" fill="#fff" stroke="#000" stroke-width="1.96"/>
<circle cx="1329.25" cy="1691.9" r="3.72" fill="#fff" stroke="#000" stroke-width="1.96"/>
<circle cx="1385.1" cy="1698.6" r="3.72" fill="#fff" stroke="#000" stroke-width="1.96"/>
<circle cx="1496.8" cy="1701" r="3.72" fill="#fff" stroke="#000" stroke-width="1.96"/>
<circle cx="1608.5" cy="1701" r="3.72" fill="#fff" stroke="#000" stroke-width="1.96"/>
<path class="l" stroke-width="1.96" d="M1086.53 1551.4V1496M1082.8 1496H1090.25M1086.53 1551.4V1606M1082.8 1606H1090.25M1123.39 1533.3V1471.9M1119.66 1471.9H1127.11M1123.39 1533.3V1594.4M1119.66 1594.4H1127.11M1161.7 1616.9V1585M1157.98 1585H1165.42M1161.7 1616.9V1648.7M1157.98 1648.7H1165.42M1217.55 1690V1684M1213.83 1684H1221.27M1217.55 1690V1695.5M1213.83 1695.5H1221.27"/>
<path class="l" stroke-width="1.96" stroke-linejoin="round" d="M1050 1706.45L1086.53 1551.4L1123.39 1533.3L1161.7 1616.9L1217.55 1690L1273.4 1695.2L1329.25 1701.4L1385.1 1703L1496.8 1705.5L1608.5 1705.5"/>
<rect x="1046.48" y="1702.93" width="7.05" height="7.05" fill="#fff" stroke="#000" stroke-width="1.96"/>
<rect x="1083" y="1547.88" width="7.05" height="7.05" fill="#000" stroke="#000" stroke-width="1.96"/>
<rect x="1119.86" y="1529.78" width="7.05" height="7.05" fill="#000" stroke="#000" stroke-width="1.96"/>
<rect x="1158.18" y="1613.38" width="7.05" height="7.05" fill="#fff" stroke="#000" stroke-width="1.96"/>
<rect x="1214.03" y="1686.48" width="7.05" height="7.05" fill="#fff" stroke="#000" stroke-width="1.96"/>
<rect x="1269.88" y="1691.68" width="7.05" height="7.05" fill="#fff" stroke="#000" stroke-width="1.96"/>
<rect x="1325.73" y="1697.88" width="7.05" height="7.05" fill="#fff" stroke="#000" stroke-width="1.96"/>
<rect x="1381.58" y="1699.48" width="7.05" height="7.05" fill="#fff" stroke="#000" stroke-width="1.96"/>
<rect x="1493.28" y="1701.98" width="7.05" height="7.05" fill="#fff" stroke="#000" stroke-width="1.96"/>
<rect x="1604.98" y="1701.98" width="7.05" height="7.05" fill="#fff" stroke="#000" stroke-width="1.96"/>
</g>
<g class="chart">
<text transform="translate(388.93 1844.85) scale(0.985 1)" font-size="23.24" text-anchor="middle" letter-spacing="0.6">ARCI MBG</text>
<path class="l" stroke-width="2.3" d="M104.16 2248.75H661.01"/>
<path class="l" stroke-width="0.96" stroke-dasharray="2.87 2.58" d="M119.08 2247.98H660.05"/>
<text transform="translate(100.85 2255.28) scale(0.985 1)" font-size="23.24" text-anchor="end">0</text>
<text transform="translate(100.85 2182.43) scale(0.985 1)" font-size="23.24" text-anchor="end">2</text>
<text transform="translate(100.85 2109.58) scale(0.985 1)" font-size="23.24" text-anchor="end">4</text>
<text transform="translate(100.85 2036.73) scale(0.985 1)" font-size="23.24" text-anchor="end">6</text>
<text transform="translate(100.85 1963.88) scale(0.985 1)" font-size="23.24" text-anchor="end">8</text>
<text transform="translate(100.85 1891.03) scale(0.985 1)" font-size="23.24" text-anchor="end">10</text>
<text transform="translate(114.3 2288.26) scale(0.985 1)" font-size="23.24" text-anchor="middle">0</text>
<text transform="translate(223.85 2288.26) scale(0.985 1)" font-size="23.24" text-anchor="middle">1</text>
<text transform="translate(332.9 2288.26) scale(0.985 1)" font-size="23.24" text-anchor="middle">2</text>
<text transform="translate(441.95 2288.26) scale(0.985 1)" font-size="23.24" text-anchor="middle">3</text>
<text transform="translate(551 2288.26) scale(0.985 1)" font-size="23.24" text-anchor="middle">4</text>
<text transform="translate(660.05 2288.26) scale(0.985 1)" font-size="23.24" text-anchor="middle">5</text>
<path class="l" stroke-linejoin="round" stroke-width="1.91" d="M104.16 1884.5H114.3V2248.75M104.16 2175.9H114.3M104.16 2103.05H114.3M104.16 2030.2H114.3M104.16 1957.35H114.3M114.3 2248.75V2258.99M150.46 2248.75V2258.99M186.45 2248.75V2258.99M223.85 2248.75V2258.99M278.38 2248.75V2258.99M332.9 2248.75V2258.99M387.43 2248.75V2258.99M441.95 2248.75V2258.99M551 2248.75V2258.99M660.05 2248.75V2258.99"/>
<text transform="translate(387.53 2318.68) scale(0.985 1)" font-size="23.24" text-anchor="middle" letter-spacing="0.2">Time (h)</text>
<text transform="translate(39.33 2067.82) rotate(-90) scale(0.985 1)" font-size="23.24" text-anchor="middle" letter-spacing="0.2">score</text>
<path class="l" stroke-width="1.91" d="M697.3 1906.5H736.9"/>
<circle cx="717.1" cy="1906.5" r="3.68" fill="#fff" stroke="#000" stroke-width="1.91"/>
<text transform="translate(757.95 1915.87) scale(0.985 1)" font-size="23.24" letter-spacing="0.48">PHiP</text>
<path class="l" stroke-width="1.91" d="M697.3 1948.3H736.9"/>
<rect x="713.42" y="1944.62" width="7.37" height="7.37" fill="#fff" stroke="#000" stroke-width="1.91"/>
<text transform="translate(757.95 1957.68) scale(0.985 1)" font-size="23.24">COC</text>
<path class="l" stroke-width="1.91" d="M186.45 2010.2V1977.1M182.81 1977.1H190.08M186.45 2010.2V2042.5M182.81 2042.5H190.08M223.85 2091.8V2048.4M220.22 2048.4H227.48M223.85 2091.8V2133.4M220.22 2133.4H227.48M278.38 2115.1V2060.3M274.74 2060.3H282.01M278.38 2115.1V2169.9M274.74 2169.9H282.01M332.9 2159.9V2109.9M329.26 2109.9H336.53M332.9 2159.9V2209.9M329.26 2209.9H336.53M387.43 2184.1V2143.9M383.79 2143.9H391.06M387.43 2184.1V2223.4M383.79 2223.4H391.06M441.95 2175.8V2147.2M438.31 2147.2H445.58M441.95 2175.8V2204.4M438.31 2204.4H445.58M551 2196.5V2171.5M547.37 2171.5H554.63M551 2196.5V2220.3M547.37 2220.3H554.63M660.05 2212V2188M656.41 2188H663.68M660.05 2212V2236.5M656.41 2236.5H663.68"/>
<path class="l" stroke-width="1.91" stroke-linejoin="round" d="M114.3 2248.75L186.45 2010.2L223.85 2091.8L278.38 2115.1L332.9 2159.9L387.43 2184.1L441.95 2175.8L551 2196.5L660.05 2212"/>
<circle cx="114.3" cy="2248.75" r="3.63" fill="#fff" stroke="#000" stroke-width="1.91"/>
<circle cx="186.45" cy="2010.2" r="3.63" fill="#fff" stroke="#000" stroke-width="1.91"/>
<circle cx="223.85" cy="2091.8" r="3.63" fill="#fff" stroke="#000" stroke-width="1.91"/>
<circle cx="278.38" cy="2115.1" r="3.63" fill="#000" stroke="#000" stroke-width="1.91"/>
<circle cx="332.9" cy="2159.9" r="3.63" fill="#000" stroke="#000" stroke-width="1.91"/>
<circle cx="387.43" cy="2184.1" r="3.63" fill="#fff" stroke="#000" stroke-width="1.91"/>
<circle cx="441.95" cy="2175.8" r="3.63" fill="#fff" stroke="#000" stroke-width="1.91"/>
<circle cx="551" cy="2196.5" r="3.63" fill="#fff" stroke="#000" stroke-width="1.91"/>
<circle cx="660.05" cy="2212" r="3.63" fill="#fff" stroke="#000" stroke-width="1.91"/>
<path class="l" stroke-width="1.91" stroke-linejoin="round" d="M114.3 2248.75L186.45 2034.9L223.85 2094.1L278.38 2166.8L332.9 2225.3L387.43 2234.9L441.95 2243.7L551 2243.7L660.05 2248.75"/>
<rect x="110.86" y="2245.32" width="6.87" height="6.87" fill="#fff" stroke="#000" stroke-width="1.91"/>
<rect x="183.01" y="2031.47" width="6.87" height="6.87" fill="#fff" stroke="#000" stroke-width="1.91"/>
<rect x="220.41" y="2090.66" width="6.87" height="6.87" fill="#000" stroke="#000" stroke-width="1.91"/>
<rect x="274.94" y="2163.37" width="6.87" height="6.87" fill="#000" stroke="#000" stroke-width="1.91"/>
<rect x="329.46" y="2221.87" width="6.87" height="6.87" fill="#fff" stroke="#000" stroke-width="1.91"/>
<rect x="383.99" y="2231.47" width="6.87" height="6.87" fill="#fff" stroke="#000" stroke-width="1.91"/>
<rect x="438.51" y="2240.26" width="6.87" height="6.87" fill="#fff" stroke="#000" stroke-width="1.91"/>
<rect x="547.57" y="2240.26" width="6.87" height="6.87" fill="#fff" stroke="#000" stroke-width="1.91"/>
<rect x="656.62" y="2245.32" width="6.87" height="6.87" fill="#fff" stroke="#000" stroke-width="1.91"/>
</g>
<g class="chart">
<text transform="translate(1348.18 1847.25) scale(0.985 1)" font-size="23.17" text-anchor="middle" letter-spacing="0.86">VESSPA-ACT</text>
<path class="l" stroke-width="2.29" d="M1065.39 2249.25H1619.95"/>
<path class="l" stroke-width="0.95" stroke-dasharray="2.86 2.57" d="M1080.27 2248.49H1619"/>
<text transform="translate(1061.29 2255.16) scale(0.985 1)" font-size="23.17" text-anchor="end">0</text>
<text transform="translate(1061.29 2164.57) scale(0.985 1)" font-size="23.17" text-anchor="end">1</text>
<text transform="translate(1061.29 2073.99) scale(0.985 1)" font-size="23.17" text-anchor="end">2</text>
<text transform="translate(1061.29 1983.4) scale(0.985 1)" font-size="23.17" text-anchor="end">3</text>
<text transform="translate(1061.29 1892.81) scale(0.985 1)" font-size="23.17" text-anchor="end">4</text>
<text transform="translate(1075.5 2288.63) scale(0.985 1)" font-size="23.17" text-anchor="middle">0</text>
<text transform="translate(1184.2 2288.63) scale(0.985 1)" font-size="23.17" text-anchor="middle">1</text>
<text transform="translate(1292.9 2288.63) scale(0.985 1)" font-size="23.17" text-anchor="middle">2</text>
<text transform="translate(1401.6 2288.63) scale(0.985 1)" font-size="23.17" text-anchor="middle">3</text>
<text transform="translate(1510.3 2288.63) scale(0.985 1)" font-size="23.17" text-anchor="middle">4</text>
<text transform="translate(1619 2288.63) scale(0.985 1)" font-size="23.17" text-anchor="middle">5</text>
<path class="l" stroke-linejoin="round" stroke-width="1.91" d="M1065.39 1886.9H1075.5V2249.25M1065.39 2158.66H1075.5M1065.39 2068.07H1075.5M1065.39 1977.49H1075.5M1075.5 2249.25V2259.45M1111.04 2249.25V2259.45M1146.92 2249.25V2259.45M1184.2 2249.25V2259.45M1238.55 2249.25V2259.45M1292.9 2249.25V2259.45M1347.25 2249.25V2259.45M1401.6 2249.25V2259.45M1510.3 2249.25V2259.45M1619 2249.25V2259.45"/>
<text transform="translate(1347.35 2318.95) scale(0.985 1)" font-size="23.17" text-anchor="middle" letter-spacing="0.2">Time (h)</text>
<text transform="translate(1011.71 2069.27) rotate(-90) scale(0.985 1)" font-size="23.17" text-anchor="middle" letter-spacing="0.2">score</text>
<path class="l" stroke-width="1.91" d="M1655.56 1908.6H1695.04"/>
<circle cx="1675.3" cy="1908.6" r="3.67" fill="#fff" stroke="#000" stroke-width="1.91"/>
<text transform="translate(1716.01 1918.42) scale(0.985 1)" font-size="23.17" letter-spacing="0.48">PHiP</text>
<path class="l" stroke-width="1.91" d="M1655.56 1950.27H1695.04"/>
<rect x="1671.63" y="1946.6" width="7.34" height="7.34" fill="#fff" stroke="#000" stroke-width="1.91"/>
<text transform="translate(1716.01 1960.09) scale(0.985 1)" font-size="23.17">COC</text>
<path class="l" stroke-width="1.91" d="M1184.2 2121V2087.5M1180.58 2087.5H1187.82M1184.2 2121V2150.8M1180.58 2150.8H1187.82M1292.9 2204.4V2182.2M1289.28 2182.2H1296.52M1292.9 2204.4V2225.8M1289.28 2225.8H1296.52M1401.6 2229.4V2219.4M1397.98 2219.4H1405.22M1401.6 2229.4V2238.9M1397.98 2238.9H1405.22M1510.3 2214.1V2189.9M1506.68 2189.9H1513.92M1510.3 2214.1V2238.2M1506.68 2238.2H1513.92M1619 2227.7V2209.1M1615.38 2209.1H1622.62M1619 2227.7V2246M1615.38 2246H1622.62"/>
<path class="l" stroke-width="1.91" stroke-linejoin="round" d="M1075.5 2249.25L1184.2 2121L1292.9 2204.4L1401.6 2229.4L1510.3 2214.1L1619 2227.7"/>
<circle cx="1075.5" cy="2249.25" r="3.62" fill="#fff" stroke="#000" stroke-width="1.91"/>
<circle cx="1184.2" cy="2121" r="3.62" fill="#fff" stroke="#000" stroke-width="1.91"/>
<circle cx="1292.9" cy="2204.4" r="3.62" fill="#fff" stroke="#000" stroke-width="1.91"/>
<circle cx="1401.6" cy="2229.4" r="3.62" fill="#000" stroke="#000" stroke-width="1.91"/>
<circle cx="1510.3" cy="2214.1" r="3.62" fill="#fff" stroke="#000" stroke-width="1.91"/>
<circle cx="1619" cy="2227.7" r="3.62" fill="#fff" stroke="#000" stroke-width="1.91"/>
<path class="l" stroke-width="1.91" d="M1184.2 2121V2091.3M1180.58 2091.3H1187.82M1184.2 2121V2150.8M1180.58 2150.8H1187.82M1292.9 2216.5V2203M1289.28 2203H1296.52M1292.9 2216.5V2229.9M1289.28 2229.9H1296.52"/>
<path class="l" stroke-width="1.91" stroke-linejoin="round" d="M1075.5 2249.25L1184.2 2121L1292.9 2216.5L1401.6 2247.5L1510.3 2245.1L1619 2249.25"/>
<rect x="1072.08" y="2245.83" width="6.85" height="6.85" fill="#fff" stroke="#000" stroke-width="1.91"/>
<rect x="1180.78" y="2117.58" width="6.85" height="6.85" fill="#fff" stroke="#000" stroke-width="1.91"/>
<rect x="1289.48" y="2213.08" width="6.85" height="6.85" fill="#fff" stroke="#000" stroke-width="1.91"/>
<rect x="1398.18" y="2244.08" width="6.85" height="6.85" fill="#fff" stroke="#000" stroke-width="1.91"/>
<rect x="1506.88" y="2241.68" width="6.85" height="6.85" fill="#fff" stroke="#000" stroke-width="1.91"/>
<rect x="1615.58" y="2245.83" width="6.85" height="6.85" fill="#fff" stroke="#000" stroke-width="1.91"/>
</g>
</svg>
</body>
</html>
